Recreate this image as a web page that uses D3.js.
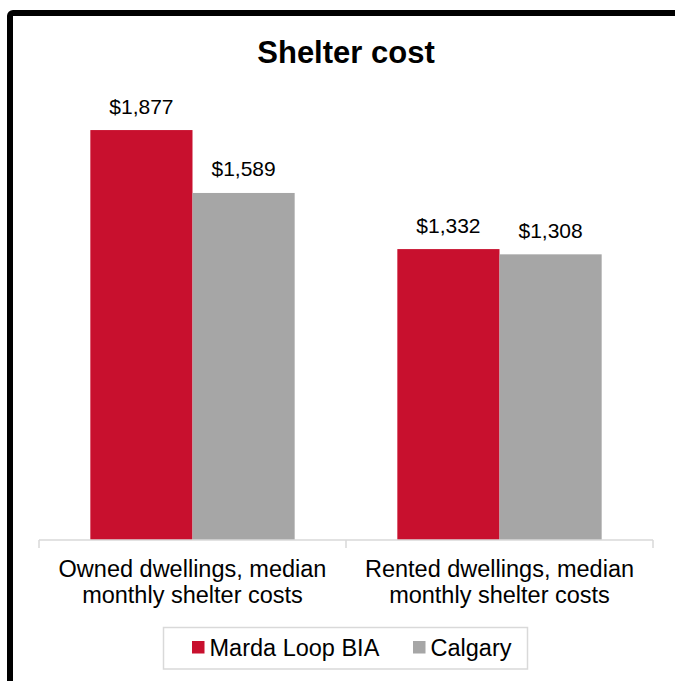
<!DOCTYPE html>
<html>
<head>
<meta charset="utf-8">
<script src="https://cdn.jsdelivr.net/npm/d3@7"></script>
<style>
  html, body { margin: 0; padding: 0; background: #fff; }
  svg { display: block; font-family: "Liberation Sans", Arial, sans-serif; }
</style>
</head>
<body>
<svg id="chart" width="675" height="681"></svg>
<script>
const title = "Shelter cost";
const categories = [
  ["Owned dwellings, median", "monthly shelter costs"],
  ["Rented dwellings, median", "monthly shelter costs"]
];
const categoryKeys = ["owned", "rented"];
const seriesNames = ["Marda Loop BIA", "Calgary"];
const seriesColors = ["#C8102E", "#A6A6A6"];
const mardaLoop = [1877, 1332];
const calgary = [1589, 1308];
const seriesValues = [mardaLoop, calgary];
const yDomainMax = 2000;

const svg = d3.select("#chart");

// outer frame (extends past right and bottom edges)
svg.append("rect")
  .attr("x", 10).attr("y", 13)
  .attr("width", 720).attr("height", 720)
  .attr("rx", 3)
  .attr("fill", "none")
  .attr("stroke", "#000")
  .attr("stroke-width", 6);

// title
svg.append("text")
  .attr("x", 346).attr("y", 63)
  .attr("text-anchor", "middle")
  .attr("font-size", 31)
  .attr("font-weight", "bold")
  .attr("fill", "#000")
  .text(title);

const plotLeft = 39, plotRight = 653, baseY = 540;

const x0 = d3.scaleBand().domain(categoryKeys).range([plotLeft, plotRight]).padding(0);
const x1 = d3.scaleBand().domain(d3.range(seriesNames.length))
  .range([0, x0.bandwidth()]).paddingInner(0).paddingOuter(0.5025);
const y = d3.scaleLinear().domain([0, yDomainMax]).range([baseY, 103.2]);

const fmt = v => "$" + d3.format(",")(v);

// bars
const groups = svg.append("g").selectAll("g")
  .data(categoryKeys)
  .join("g")
  .attr("transform", d => `translate(${x0(d)},0)`);

groups.each(function(key, ci) {
  const g = d3.select(this);
  seriesValues.forEach((vals, si) => {
    g.append("rect")
      .attr("x", x1(si))
      .attr("y", y(vals[ci]))
      .attr("width", x1.bandwidth())
      .attr("height", y(0) - y(vals[ci]))
      .attr("fill", seriesColors[si]);
    g.append("text")
      .attr("x", x1(si) + x1.bandwidth() / 2)
      .attr("y", y(vals[ci]) - 16.5)
      .attr("text-anchor", "middle")
      .attr("font-size", 21)
      .attr("fill", "#000")
      .text(fmt(vals[ci]));
  });
});

// x axis line with boundary ticks
const axisG = svg.append("g");
axisG.append("line")
  .attr("x1", x0.range()[0]).attr("x2", x0.range()[1])
  .attr("y1", baseY).attr("y2", baseY)
  .attr("stroke", "#D9D9D9").attr("stroke-width", 1.5);
const boundaries = categoryKeys.map(k => x0(k)).concat([x0.range()[1]]);
axisG.selectAll("line.tick")
  .data(boundaries)
  .join("line")
  .attr("class", "tick")
  .attr("x1", d => d).attr("x2", d => d)
  .attr("y1", baseY).attr("y2", baseY + 8)
  .attr("stroke", "#D9D9D9").attr("stroke-width", 1.5);

// category labels
categoryKeys.forEach((k, i) => {
  const t = svg.append("text")
    .attr("x", x0(k) + x0.bandwidth() / 2)
    .attr("y", 577)
    .attr("text-anchor", "middle")
    .attr("font-size", 23.5)
    .attr("fill", "#000");
  categories[i].forEach((line, li) => {
    t.append("tspan")
      .attr("x", x0(k) + x0.bandwidth() / 2)
      .attr("dy", li === 0 ? 0 : 25.5)
      .text(line);
  });
});

// legend
svg.append("rect")
  .attr("x", 163.5).attr("y", 627.5)
  .attr("width", 364).attr("height", 41.5)
  .attr("fill", "#fff")
  .attr("stroke", "#D9D9D9").attr("stroke-width", 1.5);

const legendItems = [
  { name: seriesNames[0], color: seriesColors[0], sx: 192 },
  { name: seriesNames[1], color: seriesColors[1], sx: 413 }
];
legendItems.forEach(it => {
  svg.append("rect")
    .attr("x", it.sx).attr("y", 641)
    .attr("width", 12.5).attr("height", 12.5)
    .attr("fill", it.color);
  svg.append("text")
    .attr("x", it.sx + 17.5).attr("y", 655.5)
    .attr("font-size", 23.5)
    .attr("fill", "#000")
    .text(it.name);
});
</script>
</body>
</html>
